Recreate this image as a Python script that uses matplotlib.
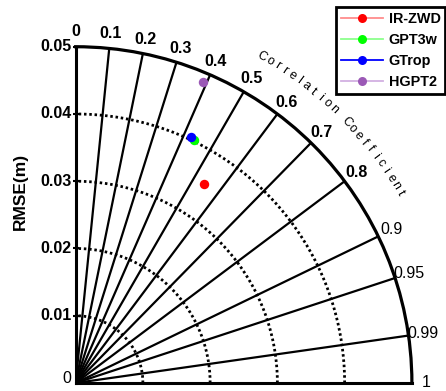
import numpy as np
import matplotlib
matplotlib.use('Agg')
import matplotlib.pyplot as plt
from matplotlib.lines import Line2D
from matplotlib.transforms import offset_copy

plt.rcParams['font.family'] = ['Liberation Sans', 'DejaVu Sans']

# ---- data ----
models = ['IR-ZWD', 'GPT3w', 'GTrop', 'HGPT2']
correlation = [0.543, 0.438, 0.4245, 0.389]
rmse = [0.0352, 0.0402, 0.04035, 0.0486]
marker_colors = ['#ff0000', '#00ff00', '#0000ff', '#9b59b6']
line_colors = ['#ff8c8c', '#8cff8c', '#0000ff', '#d2b0e2']

corr_ticks = [0, 0.1, 0.2, 0.3, 0.4, 0.5, 0.6, 0.7, 0.8, 0.9, 0.95, 0.99, 1]
corr_tick_labels = ['0', '0.1', '0.2', '0.3', '0.4', '0.5', '0.6', '0.7', '0.8',
                    '0.9', '0.95', '0.99', '1']
corr_label_bold = [True] * 9 + [False] * 4
rmse_ticks = [0.01, 0.02, 0.03, 0.04, 0.05]
rmse_tick_labels = ['0.01', '0.02', '0.03', '0.04', '0.05']
rmax = 0.05
arc_title = 'Correlation Coefficient'

# ---- figure ----
fig = plt.figure(figsize=(4.46, 3.91), dpi=100)
ax = fig.add_axes([0.1693, 0.0205, 0.7545, 0.860], projection='polar')
ax.set_thetamin(0)
ax.set_thetamax(90)
ax.set_rlim(0, rmax)
ax.grid(False)
ax.set_xticks([])
ax.set_yticks([])
ax.spines['polar'].set_linewidth(2.3)
ax.spines['start'].set_linewidth(2.2)
ax.spines['end'].set_linewidth(2.2)

# radial correlation lines
for c in corr_ticks[1:-1]:
    th = np.arccos(c)
    ax.plot([th, th], [0, rmax], color='black', lw=1.6, zorder=2)

# dotted RMSE arcs
theta = np.linspace(0, np.pi / 2, 200)
for r in rmse_ticks[:-1]:
    ax.plot(theta, np.full_like(theta, r), color='black', lw=2.0,
            linestyle=(0, (0.9, 1.0)), zorder=2)

# left ticks and labels
tr_left = offset_copy(ax.transData, fig=fig, x=-4.5, y=0, units='dots')
ax.plot([np.pi / 2] * len(rmse_ticks), rmse_ticks, linestyle='none', marker='_',
        ms=5, mew=1.5, color='black', clip_on=False, zorder=3)
for v, lab in zip(rmse_ticks, rmse_tick_labels):
    ax.text(np.pi / 2, v, lab, transform=tr_left, ha='right', va='center',
            fontsize=11.5, fontweight='bold')
ax.text(np.pi / 2, 0, '0', transform=tr_left, ha='right', va='baseline',
        fontsize=11.5)

# correlation labels
for c, lab, b in zip(corr_ticks, corr_tick_labels, corr_label_bold):
    ax.text(np.arccos(c), 0.0522, lab, ha='center', va='center',
            fontsize=11.5, fontweight='bold' if b else 'normal')

# arc title
a0, a1 = np.deg2rad(60.3), np.deg2rad(30.35)
angs = np.linspace(a0, a1, len(arc_title))
for ch, a in zip(arc_title, angs):
    ax.text(a, 0.0559, ch, ha='center', va='center', fontsize=9,
            fontweight='medium',
            rotation=np.rad2deg(a) - 90, rotation_mode='anchor')

# points
for c, r, mc in zip(correlation, rmse, marker_colors):
    ax.plot([np.arccos(c)], [r], marker='o', ms=6.8, color=mc, mec='none',
            linestyle='none', zorder=5, clip_on=False)

fig.text(20.7 / 446, 1 - 191 / 391, 'RMSE(m)', rotation=90, ha='center',
         va='center', fontsize=12.5, fontweight='bold')

handles = [Line2D([0], [0], color=lc, lw=1.3, marker='o', ms=6.5,
                  markerfacecolor=mc, markeredgecolor='none')
           for lc, mc in zip(line_colors, marker_colors)]
leg = fig.legend(handles, models, loc='upper right',
                 bbox_to_anchor=(445.5 / 446, 1 - 7 / 391),
                 bbox_transform=fig.transFigure, fancybox=False,
                 prop={'weight': 'bold', 'size': 10.4}, handlelength=2.9,
                 handletextpad=0.4, labelspacing=0.48, borderpad=0.35,
                 borderaxespad=0, framealpha=1)
leg.get_frame().set_edgecolor('black')
leg.get_frame().set_linewidth(2.0)

fig.savefig('out.png', dpi=100)
